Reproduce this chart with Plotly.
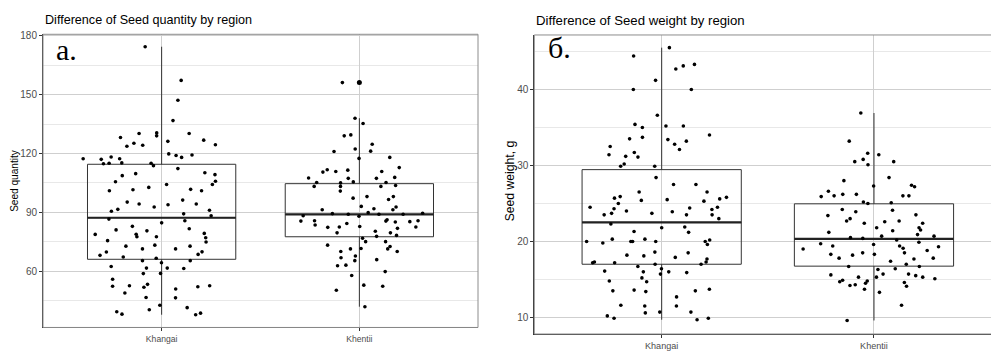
import plotly.graph_objects as go

# ---------------- data ----------------
regions = ["Khangai", "Khentii"]

khangai_qty = [174.5, 157.3, 147.2, 136.8, 126.8, 125.2, 128.2, 126.2, 124.2, 123.7,
               130.2, 129.0, 130.2, 130.5, 124.5, 119.8, 117.3, 119.0, 118.2, 118.0,
               115.2, 113.8, 115.0, 119.2, 114.8, 117.3, 115.0, 117.0, 112.3, 105.6,
               108.7, 109.2, 110.2, 109.7, 101.5, 101.0, 105.8, 102.7, 101.0, 104.2,
               104.2, 101.7, 96.2, 94.2, 94.2, 92.7, 93.8, 91.0, 89.2, 88.2,
               91.5, 95.2, 90.5, 86.5, 85.7, 84.6, 80.5, 77.5, 77.5, 72.7,
               67.2, 78.8, 81.6, 82.8, 81.0, 79.2, 74.8, 78.7, 75.5, 77.0,
               71.3, 71.3, 73.2, 72.7, 68.5, 69.8, 69.7, 66.5, 68.0, 64.2,
               65.3, 65.3, 61.5, 61.3, 58.7, 58.8, 61.5, 62.3, 51.7, 52.5,
               55.8, 50.8, 52.5, 52.2, 52.0, 53.2, 48.8, 46.3, 46.5, 42.5,
               40.2, 41.3, 39.2, 38.0, 37.7, 38.5]
khentii_qty = [156.2, 138.0, 135.3, 129.0, 129.5, 124.7, 121.0, 121.2, 122.3, 117.5,
               118.0, 110.8, 112.8, 111.5, 110.5, 111.7, 110.8, 107.3, 105.2, 107.5,
               105.2, 105.5, 107.8, 107.3, 105.0, 103.2, 103.7, 103.2, 100.8, 103.2,
               97.2, 98.0, 98.0, 96.5, 92.7, 93.0, 91.3, 91.8, 91.3, 89.0,
               89.0, 89.5, 89.8, 89.3, 89.0, 88.0, 88.2, 85.5, 80.3, 82.3,
               84.3, 81.8, 82.5, 85.7, 85.7, 86.2, 82.7, 83.5, 85.5, 85.2,
               85.0, 82.5, 78.2, 79.5, 77.7, 79.5, 75.0, 76.7, 75.0, 73.2,
               72.5, 71.3, 70.0, 71.3, 71.5, 70.0, 67.7, 66.8, 65.8, 65.3,
               62.7, 63.0, 59.7, 57.7, 52.2, 52.8, 50.2, 41.8]

qty_q1 = [66.0, 77.5]
qty_median = [87.2, 88.9]
qty_q3 = [114.5, 104.6]
qty_lowerfence = [37.7, 41.8]
qty_upperfence = [174.5, 138.0]
qty_outlier_region = ["Khentii"]
qty_outlier_value = [156.2]

khangai_wt = [45.5, 44.4, 42.7, 43.3, 43.1, 41.2, 40.0, 40.0, 36.6, 35.2,
              35.2, 35.0, 35.4, 33.4, 34.0, 33.5, 32.8, 32.5, 33.2, 33.7,
              32.1, 31.4, 31.7, 31.1, 30.2, 29.9, 29.9, 31.2, 28.4, 27.5,
              27.5, 25.7, 25.4, 25.9, 25.6, 25.5, 24.3, 24.5, 24.0, 23.5,
              23.9, 23.7, 26.5, 24.5, 25.8, 24.4, 24.2, 25.0, 26.5, 25.3,
              23.5, 23.5, 23.7, 23.0, 22.3, 21.9, 21.8, 21.3, 21.2, 20.3,
              20.0, 20.0, 20.3, 20.0, 20.2, 20.0, 20.0, 19.6, 19.8, 18.5,
              18.6, 18.2, 18.1, 17.9, 17.7, 17.3, 17.3, 17.0, 17.2, 17.2,
              17.0, 16.7, 16.4, 16.0, 15.9, 16.1, 15.7, 16.0, 15.2, 14.7,
              14.8, 13.6, 13.5, 13.7, 13.5, 13.4, 12.7, 11.5, 11.6, 10.7,
              11.5, 10.6, 10.7, 9.9, 10.2, 9.9, 9.7]
khentii_wt = [36.9, 33.2, 31.4, 31.6, 30.8, 30.5, 30.5, 30.1, 28.4, 28.0,
              27.2, 27.4, 27.3, 26.6, 26.0, 25.9, 26.0, 26.2, 26.2, 26.0,
              25.1, 25.2, 25.0, 24.1, 24.2, 23.9, 23.5, 23.4, 23.0, 22.6,
              22.7, 21.8, 21.4, 22.4, 22.7, 21.8, 22.4, 21.5, 21.2, 20.9,
              20.7, 20.5, 20.7, 20.4, 20.2, 19.4, 19.4, 19.7, 19.9, 19.6,
              19.3, 19.0, 19.1, 18.8, 18.5, 18.2, 18.3, 18.3, 18.5, 17.7,
              17.8, 17.4, 17.8, 17.0, 16.7, 16.7, 16.4, 16.3, 15.3, 15.3,
              15.6, 15.1, 14.7, 15.7, 15.5, 15.3, 15.7, 14.8, 14.9, 14.6,
              14.3, 14.2, 14.5, 14.1, 13.7, 13.3, 11.6, 9.6]

wt_q1 = [17.0, 16.75]
wt_median = [22.5, 20.35]
wt_q3 = [29.45, 24.95]
wt_lowerfence = [9.7, 9.6]
wt_upperfence = [45.5, 36.9]

titles = ["Difference of Seed quantity by region", "Difference of Seed weight by region"]
y_titles = ["Seed quantity", "Seed weight, g"]
panel_letters = ["а.", "б."]

# ---------------- figure ----------------
W, H = 991, 351
FONT = "Liberation Sans, Arial, sans-serif"
BOX_LINE = "#333333"
TRANSPARENT = "rgba(0,0,0,0)"

fig = go.Figure()


def add_panel(xa, ya, vals_a, vals_b, q1, med, q3, lo, hi, out_x=None, out_y=None):
    # box outline
    fig.add_trace(go.Box(x=regions, q1=q1, median=med, q3=q3, lowerfence=lo, upperfence=hi,
                         width=0.75, boxpoints=False, fillcolor=TRANSPARENT, whiskerwidth=0,
                         line=dict(color=BOX_LINE, width=1), xaxis=xa, yaxis=ya,
                         hoverinfo="skip", showlegend=False))
    # thicker median line
    fig.add_trace(go.Box(x=regions, q1=med, median=med, q3=med, lowerfence=med, upperfence=med,
                         width=0.75, boxpoints=False, fillcolor=TRANSPARENT, whiskerwidth=0,
                         line=dict(color="#222222", width=2.2), xaxis=xa, yaxis=ya,
                         hoverinfo="skip", showlegend=False))
    # jittered sample points
    xs = [regions[0]] * len(vals_a) + [regions[1]] * len(vals_b)
    fig.add_trace(go.Box(x=xs, y=vals_a + vals_b, boxpoints="all", jitter=1, pointpos=0,
                         width=0.8, fillcolor=TRANSPARENT,
                         line=dict(color=TRANSPARENT, width=0),
                         marker=dict(color="black", size=3.6, line=dict(width=0)),
                         xaxis=xa, yaxis=ya, showlegend=False))
    if out_x:
        fig.add_trace(go.Scatter(x=out_x, y=out_y, mode="markers",
                                 marker=dict(color="black", size=5),
                                 xaxis=xa, yaxis=ya, showlegend=False))


add_panel("x", "y", khangai_qty, khentii_qty, qty_q1, qty_median, qty_q3,
          qty_lowerfence, qty_upperfence, qty_outlier_region, qty_outlier_value)
add_panel("x2", "y2", khangai_wt, khentii_wt, wt_q1, wt_median, wt_q3,
          wt_lowerfence, wt_upperfence)

# geometry (pixels)
L1, R1, T1, B1 = 43, 478, 31, 331
L2, R2, T2, B2 = 534.3, 991, 31.7, 337.7

common_x = dict(type="category", categoryorder="array", categoryarray=regions,
                showgrid=True, gridcolor="#cfcfcf", gridwidth=1,
                ticks="outside", ticklen=3, tickcolor=BOX_LINE,
                showline=True, linecolor=BOX_LINE, linewidth=1,
                zeroline=False, fixedrange=True)
common_y = dict(showgrid=True, gridcolor="#cfcfcf", gridwidth=1,
                ticks="outside", ticklen=3, tickcolor=BOX_LINE,
                showline=True, linecolor=BOX_LINE, linewidth=1,
                zeroline=False, fixedrange=True,
                tickfont=dict(family=FONT, size=10, color="#4d4d4d"))

fig.update_layout(
    width=W, height=H, autosize=False,
    margin=dict(l=0, r=0, t=0, b=0, pad=0),
    paper_bgcolor="white", plot_bgcolor="white",
    boxmode="overlay", showlegend=False,
    font=dict(family=FONT, color="black"),
    xaxis=dict(common_x, domain=[L1 / W, R1 / W], anchor="y", range=[-0.6, 1.6],
               tickfont=dict(family=FONT, size=8.6, color="#4d4d4d")),
    yaxis=dict(common_y, domain=[1 - B1 / H, 1 - T1 / H], anchor="x",
               range=[31.2, 180.85], tick0=0, dtick=30,
               minor=dict(tick0=0, dtick=15, showgrid=True, gridcolor="#e8e8e8", ticks="")),
    xaxis2=dict(common_x, domain=[L2 / W, R2 / W], anchor="y2",
                range=[-0.6, -0.6 + (R2 - L2) / 212.3],
                tickfont=dict(family=FONT, size=9.1, color="#4d4d4d")),
    yaxis2=dict(common_y, domain=[1 - B2 / H, 1 - T2 / H], anchor="x2",
                range=[7.82, 47.17], tick0=0, dtick=10,
                minor=dict(tick0=0, dtick=5, showgrid=True, gridcolor="#e8e8e8", ticks="")),
)

# panel borders (grey frame)
fig.add_shape(type="rect", xref="x domain", yref="y domain", x0=0, x1=1, y0=0, y1=1,
              line=dict(color="#8c8c8c", width=1), layer="above")
fig.add_shape(type="rect", xref="x2 domain", yref="y2 domain", x0=0, x1=1.1, y0=0, y1=1,
              line=dict(color="#8c8c8c", width=1), layer="above")

# titles, axis titles and panel letters
ann = []
ann.append(dict(text=titles[0], x=L1 / W, y=1 - 16.5 / H, xanchor="left", yanchor="middle",
                font=dict(size=12.6, color="black")))
ann.append(dict(text=titles[1], x=L2 / W, y=1 - 17 / H, xanchor="left", yanchor="middle",
                font=dict(size=13.2, color="black")))
ann.append(dict(text=y_titles[0], x=15 / W, y=1 - 181 / H, textangle=-90,
                xanchor="center", yanchor="middle", font=dict(size=10.1, color="black")))
ann.append(dict(text=y_titles[1], x=510 / W, y=1 - 181.5 / H, textangle=-90,
                xanchor="center", yanchor="middle", font=dict(size=12.2, color="black")))
ann.append(dict(text=panel_letters[0], x=54 / W, y=1 - 47 / H, xanchor="left", yanchor="middle",
                font=dict(size=30, family="Liberation Serif, Times New Roman, serif", color="black")))
ann.append(dict(text=panel_letters[1], x=546 / W, y=1 - 45 / H, xanchor="left", yanchor="middle",
                font=dict(size=30, family="Liberation Serif, Times New Roman, serif", color="black")))
for a in ann:
    a.update(xref="paper", yref="paper", showarrow=False)
fig.update_layout(annotations=ann)

fig.write_html("out.html",
               config={"displayModeBar": False, "staticPlot": False},
               post_script="document.body.style.margin='0px';document.body.style.overflow='hidden';")
